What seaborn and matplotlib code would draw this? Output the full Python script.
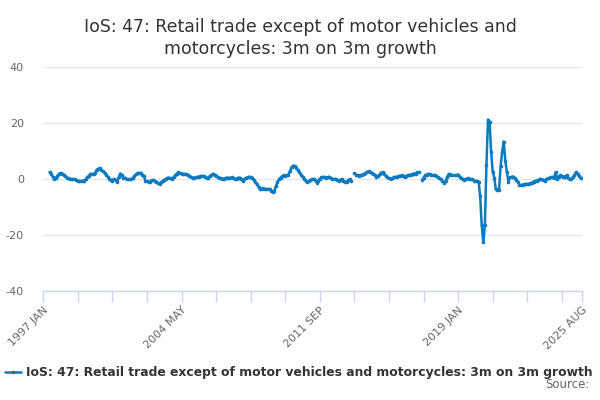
import numpy as np
import pandas as pd
import matplotlib
matplotlib.use("Agg")
import matplotlib.pyplot as plt
from matplotlib.lines import Line2D
import seaborn as sns

nan = np.nan
series_name = "IoS: 47: Retail trade except of motor vehicles and motorcycles: 3m on 3m growth"
start_year = 1997
month_names = ["JAN", "FEB", "MAR", "APR", "MAY", "JUN", "JUL", "AUG", "SEP", "OCT", "NOV", "DEC"]

values = [
    # 1997
    nan, nan, nan, nan, 2.4, 1.6, 0.8, 0.0, 0.4, 1.0, 1.8, 2.1,
    # 1998
    1.9, 1.5, 0.9, 0.4, 0.2, 0.0, -0.1, -0.2, -0.1, -0.5, -0.8, -0.7,
    # 1999
    -0.8, -0.7, -0.6, -0.2, 0.6, 1.0, 1.8, 1.7, 1.6, 2.2, 3.3, 3.5,
    # 2000
    3.9, 3.2, 2.7, 2.0, 1.5, 0.8, 0.0, -0.3, -0.6, 0.0, -0.5, -1.2,
    # 2001
    0.5, 1.9, 1.2, 0.4, 0.4, -0.1, -0.2, -0.2, -0.2, 0.3, 1.0, 1.6,
    # 2002
    2.1, 2.0, 2.1, 1.5, 1.0, -0.8, -0.9, -1.2, -1.0, -0.5, -0.5, -0.9,
    # 2003
    -1.2, -1.5, -2.0, -1.3, -0.8, -0.3, 0.0, 0.3, 0.4, 0.2, 0.0, 0.6,
    # 2004
    1.2, 1.8, 2.4, 2.1, 1.9, 1.8, 1.7, 1.6, 1.5, 1.0, 0.7, 0.4,
    # 2005
    0.4, 0.5, 0.6, 0.8, 1.0, 1.0, 1.0, 0.7, 0.4, 0.4, 1.0, 1.4,
    # 2006
    1.8, 1.5, 1.0, 0.7, 0.4, 0.2, 0.0, 0.1, 0.3, 0.4, 0.4, 0.2,
    # 2007
    0.6, 0.3, -0.2, 0.1, 0.4, 0.4, 0.0, -0.6, -0.2, 0.4, 0.5, 0.7,
    # 2008
    0.5, 0.4, -0.4, -1.2, -2.0, -3.0, -3.6, -3.5, -3.4, -3.8, -3.6, -3.7,
    # 2009
    -3.6, -4.2, -4.7, -4.4, -2.6, -1.2, -0.2, 0.4, 0.9, 1.2, 1.1, 1.2,
    # 2010
    1.5, 2.8, 4.2, 4.7, 4.6, 3.9, 3.1, 2.3, 1.5, 0.8, 0.0, -0.6,
    # 2011
    -1.2, -0.9, -0.4, -0.2, 0.0, -0.3, -1.4, -0.6, 0.0, 0.5, 0.7, 0.6,
    # 2012
    0.4, 0.5, 0.7, 0.2, -0.2, -0.1, 0.0, -0.4, -0.8, -0.3, -0.2, -0.6,
    # 2013
    -1.0, -1.2, -0.5, -0.2, -0.8, nan, 2.0, 1.5, 1.2, 1.0, 1.3, 1.5,
    # 2014
    1.7, 2.0, 2.5, 2.7, 2.4, 2.1, 1.9, 1.3, 0.7, 0.9, 1.6, 2.2,
    # 2015
    2.4, 1.8, 1.0, 0.6, 0.2, 0.0, 0.2, 0.5, 0.7, 0.6, 0.9, 1.1,
    # 2016
    1.2, 1.0, 0.8, 1.0, 1.4, 1.3, 1.5, 1.7, 1.9, 1.9, 2.3, 2.4,
    # 2017
    nan, -0.4, 0.4, 1.2, 1.5, 1.8, 1.6, 1.2, 1.3, 1.4, 1.0, 0.6,
    # 2018
    0.2, -0.2, -0.8, -1.4, -0.8, 0.6, 1.8, 1.5, 1.5, nan, 1.2, 1.4,
    # 2019
    1.5, 0.8, 0.2, -0.2, -0.4, 0.0, 0.2, 0.1, -0.2, -0.1, -0.6, -0.8,
    # 2020
    -0.8, -1.0, -6.2, -16.6, -22.7, -16.6, 5.1, 21.1, 20.4, 9.5, 2.4, 0.4,
    # 2021
    -3.8, -4.1, -4.1, 4.5, 9.7, 13.3, 6.5, 2.4, -1.0, 0.6, 0.7, 0.8,
    # 2022
    0.2, -0.4, -1.2, -2.1, -2.2, -2.1, -2.0, -1.8, -1.9, -1.8, -1.6, -1.4,
    # 2023
    -1.0, -0.8, -0.6, -0.4, 0.0, -0.2, -0.3, -0.6, -0.2, 0.2, 0.3, 0.6,
    # 2024
    0.6, 0.4, 2.4, 0.0, 0.8, 1.2, 1.0, 0.8, 0.8, 1.2, 0.3, -0.2,
    # 2025
    -0.2, 0.6, 1.2, 2.4, 1.6, 1.0, 0.2, 0.2,
]

n = len(values)
categories = [f"{start_year + i // 12} {month_names[i % 12]}" for i in range(n)]
y_ticks = [-40, -20, 0, 20, 40]
tick_step = 22
label_step = 88

df = pd.DataFrame({"idx": np.arange(n), "value": values, "label": categories})
# segment id so that missing months break the line
df["segment"] = df["value"].isna().cumsum()
df = df.dropna(subset=["value"])

sns.set_theme(style="white")
plt.rcParams["font.family"] = ["DejaVu Sans"]

line_color = "#0b7bc1"
text_grey = "#666666"

fig = plt.figure(figsize=(6, 4), dpi=100)
ax = fig.add_axes([0.0722, 0.2725, 0.8983, 0.5608])

sns.lineplot(data=df, x="idx", y="value", units="segment", ax=ax, color=line_color, linewidth=1.8,
             marker="o", markersize=2.6, markeredgewidth=0, estimator=None, legend=False)

ax.set_xlim(0, n - 1)
ax.set_ylim(-40, 40)
ax.set_yticks(y_ticks)
ax.set_yticklabels([str(t) for t in y_ticks], color=text_grey, fontsize=8)
ax.yaxis.grid(True, color="#e6e6e6", linewidth=1)
ax.tick_params(axis="y", length=0, pad=14)

tick_pos = list(range(0, n, tick_step)) + [n - 1]
ax.set_xticks(tick_pos)
ax.set_xticklabels([categories[p] if (p % label_step == 0 or p == n - 1) else "" for p in tick_pos],
                   rotation=45, ha="right", rotation_mode="anchor", color=text_grey, fontsize=8)
ax.tick_params(axis="x", length=8, width=1, color="#ccd6eb", pad=2, direction="out", bottom=True)
ax.set_xlabel("")
ax.set_ylabel("")
for s in ["top", "right", "left"]:
    ax.spines[s].set_visible(False)
ax.spines["bottom"].set_color("#ccd6eb")
ax.spines["bottom"].set_linewidth(1)

fig.text(0.5, 0.955, "IoS: 47: Retail trade except of motor vehicles and\nmotorcycles: 3m on 3m growth",
         ha="center", va="top", fontsize=12.5, color="#333333", linespacing=1.25)

handle = Line2D([0], [0], color=line_color, linewidth=1.8, marker="o", markersize=2.6, markeredgewidth=0)
fig.legend([handle], [series_name], loc="center", bbox_to_anchor=(0.498, 0.068), frameon=False,
           handlelength=1.3, handletextpad=0.4, prop={"weight": "bold", "size": 8.95},
           labelcolor="#333333")
fig.text(0.983, 0.022, "Source:", ha="right", va="bottom", fontsize=8.5, color=text_grey)

fig.savefig("out.png", dpi=100)
